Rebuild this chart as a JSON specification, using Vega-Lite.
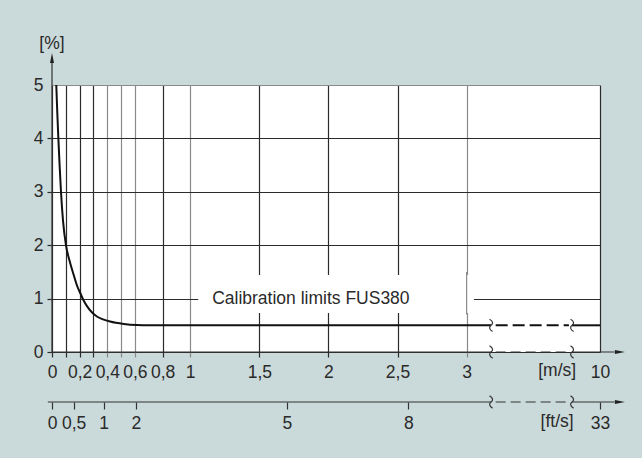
{
  "$schema": "https://vega.github.io/schema/vega-lite/v6.json",
  "width": 548,
  "height": 267,
  "autosize": {"type": "none"},
  "padding": {"left": 52, "top": 85, "right": 42, "bottom": 106},
  "background": "#cad9d9",
  "config": {"view": {"stroke": null, "fill": "white"}, "font": "Liberation Sans"},
  "datasets": {
    "curve": [
      {"x": 0.031, "y": 5.0, "seg": "a"}, {"x": 0.038, "y": 4.5, "seg": "a"}, {"x": 0.046, "y": 4.0, "seg": "a"},
      {"x": 0.055, "y": 3.5, "seg": "a"}, {"x": 0.065, "y": 3.0, "seg": "a"}, {"x": 0.08, "y": 2.45, "seg": "a"},
      {"x": 0.101, "y": 2.0, "seg": "a"}, {"x": 0.128, "y": 1.7, "seg": "a"}, {"x": 0.156, "y": 1.45, "seg": "a"},
      {"x": 0.18, "y": 1.25, "seg": "a"}, {"x": 0.205, "y": 1.1, "seg": "a"}, {"x": 0.23, "y": 0.96, "seg": "a"},
      {"x": 0.253, "y": 0.86, "seg": "a"}, {"x": 0.29, "y": 0.74, "seg": "a"}, {"x": 0.325, "y": 0.665, "seg": "a"},
      {"x": 0.37, "y": 0.61, "seg": "a"}, {"x": 0.42, "y": 0.57, "seg": "a"}, {"x": 0.52, "y": 0.525, "seg": "a"},
      {"x": 0.614, "y": 0.505, "seg": "a"}, {"x": 0.7, "y": 0.5, "seg": "a"}, {"x": 1.5, "y": 0.5, "seg": "a"},
      {"x": 3.177, "y": 0.5, "seg": "a"},
      {"x": 3.763, "y": 0.5, "seg": "b"}, {"x": 3.965, "y": 0.5, "seg": "b"}
    ],
    "curvedash": [{"x": 3.21, "y": 0.5}, {"x": 3.74, "y": 0.5}],
    "box": [{"x": 1.058, "x2": 3.053, "y": 0.73, "y2": 1.44}],
    "gridfix": [{"x": 3, "y": 0.7, "y2": 1.5}],
    "axislines": [
      {"x": 0, "x2": 0, "y": 0, "y2": 5.45, "style": "solid"},
      {"x": 0, "x2": 3.177, "y": 0, "y2": 0, "style": "solid"},
      {"x": 3.21, "x2": 3.74, "y": 0, "y2": 0, "style": "dashed"},
      {"x": 3.763, "x2": 4.07, "y": 0, "y2": 0, "style": "solid"}
    ],
    "ftaxis": [
      {"x": -0.03, "x2": 3.177, "y": -0.936, "style": "solid"},
      {"x": 3.21, "x2": 3.74, "y": -0.936, "style": "dashed"},
      {"x": 3.763, "x2": 4.07, "y": -0.936, "style": "solid"}
    ],
    "arrows": [
      {"x": 0, "y": 5.506, "dir": "up"},
      {"x": 4.109, "y": 0, "dir": "right"},
      {"x": 4.109, "y": -0.936, "dir": "right"}
    ],
    "breaks": [
      {"x": 3.177, "y": 0.5}, {"x": 3.763, "y": 0.5},
      {"x": 3.177, "y": 0}, {"x": 3.763, "y": 0},
      {"x": 3.177, "y": -0.936}, {"x": 3.763, "y": -0.936}
    ],
    "labels": [
      {"x": 0, "y": 5.76, "text": "[%]"},
      {"x": 1.873, "y": 1.0, "text": "Calibration limits FUS380"},
      {"x": 3.655, "y": -0.35, "text": "[m/s]"},
      {"x": 3.655, "y": -1.305, "text": "[ft/s]"}
    ]
  },
  "layer": [
    {
      "layer": [
        {
          "data": {"name": "curve"},
          "mark": {"type": "line", "color": "#111", "strokeWidth": 2, "interpolate": "monotone"},
          "encoding": {
            "x": {
              "field": "x", "type": "quantitative",
              "scale": {"domain": [0, 3.965], "nice": false, "zero": false},
              "axis": {
                "orient": "bottom",
                "values": [0, 0.1, 0.2, 0.3, 0.4, 0.5, 0.6, 0.8, 1, 1.5, 2, 2.5, 3, 3.965],
                "domain": false,
                "grid": true,
                "gridColor": {"condition": {"test": "indexof([0.4,0.5,0.6,1,3], datum.value) >= 0", "value": "#8a8a8a"}, "value": "#2b2b2b"},
                "gridWidth": 1.2,
                "tickColor": {"condition": {"test": "indexof([0.4,0.5,0.6,1,3], datum.value) >= 0", "value": "#8a8a8a"}, "value": "#2b2b2b"},
                "tickOpacity": {"condition": {"test": "datum.value > 3.5", "value": 0}, "value": 1},
                "tickSize": 5,
                "tickWidth": 1.2,
                "labelExpr": "datum.value > 3.5 ? '10' : (indexof([0.1,0.3,0.5], datum.value) >= 0 ? '' : replace(format(datum.value, '~g'), '.', ','))",
                "labelFontSize": 17.5,
                "labelColor": "#2a2a2a",
                "labelPadding": 6,
                "labelFlush": false,
                "labelOverlap": false,
                "labelBound": false,
                "title": null
              }
            },
            "y": {
              "field": "y", "type": "quantitative",
              "scale": {"domain": [0, 5], "nice": false, "zero": false},
              "axis": {
                "values": [0, 0.5, 1, 1.5, 2, 2.5, 3, 3.5, 4, 4.5, 5],
                "domain": false,
                "grid": true,
                "gridColor": {"condition": {"test": "datum.value == 0.5 || datum.value == 5", "value": "#8a8a8a"}, "value": "#2b2b2b"},
                "gridWidth": 1.2,
                "tickColor": "#2b2b2b",
                "tickOpacity": {"condition": {"test": "datum.value == 5", "value": 0}, "value": 1},
                "tickSize": 5,
                "tickWidth": 1.2,
                "labelExpr": "datum.value % 1 == 0 ? datum.label : ''",
                "labelFontSize": 17.5,
                "labelColor": "#2a2a2a",
                "labelPadding": 4,
                "labelFlush": false,
                "labelOverlap": false,
                "title": null
              }
            },
            "detail": {"field": "seg", "type": "nominal"}
          }
        },
        {
          "data": {"name": "box"},
          "mark": {"type": "rect", "fill": "white", "stroke": null},
          "encoding": {
            "x": {"field": "x", "type": "quantitative", "scale": {"domain": [0, 3.965], "nice": false, "zero": false}},
            "x2": {"field": "x2"},
            "y": {"field": "y", "type": "quantitative", "scale": {"domain": [0, 5], "nice": false, "zero": false}},
            "y2": {"field": "y2"}
          }
        },
        {
          "data": {"name": "gridfix"},
          "mark": {"type": "rule", "color": "#8a8a8a", "strokeWidth": 1.2},
          "encoding": {
            "x": {"field": "x", "type": "quantitative", "scale": {"domain": [0, 3.965], "nice": false, "zero": false}},
            "y": {"field": "y", "type": "quantitative", "scale": {"domain": [0, 5], "nice": false, "zero": false}},
            "y2": {"field": "y2"}
          }
        },
        {
          "data": {"name": "curvedash"},
          "mark": {"type": "line", "color": "#111", "strokeWidth": 2, "strokeDash": [12, 5]},
          "encoding": {
            "x": {"field": "x", "type": "quantitative", "scale": {"domain": [0, 3.965], "nice": false, "zero": false}},
            "y": {"field": "y", "type": "quantitative", "scale": {"domain": [0, 5], "nice": false, "zero": false}}
          }
        },
        {
          "data": {"name": "axislines"},
          "mark": {"type": "rule", "color": "#333", "strokeWidth": 1.2},
          "encoding": {
            "x": {"field": "x", "type": "quantitative", "scale": {"domain": [0, 3.965], "nice": false, "zero": false}},
            "x2": {"field": "x2"},
            "y": {"field": "y", "type": "quantitative", "scale": {"domain": [0, 5], "nice": false, "zero": false}},
            "y2": {"field": "y2"},
            "strokeDash": {"field": "style", "type": "nominal", "scale": {"domain": ["solid", "dashed"], "range": [[1, 0], [10, 5]]}, "legend": null}
          }
        },
        {
          "data": {"name": "arrows"},
          "mark": {"type": "point", "filled": true, "color": "#222", "opacity": 1, "size": 100},
          "encoding": {
            "x": {"field": "x", "type": "quantitative", "scale": {"domain": [0, 3.965], "nice": false, "zero": false}},
            "y": {"field": "y", "type": "quantitative", "scale": {"domain": [0, 5], "nice": false, "zero": false}},
            "shape": {"field": "dir", "type": "nominal", "scale": {"domain": ["up", "right"], "range": ["M0,-1L0.4,1L-0.4,1Z", "M1,0L-1,-0.4L-1,0.4Z"]}, "legend": null}
          }
        },
        {
          "data": {"name": "breaks"},
          "mark": {"type": "point", "filled": false, "stroke": "#333", "strokeWidth": 1.2, "opacity": 1, "size": 150, "shape": "M-0.25,-1C0.35,-0.7 0.35,-0.25 0,0C-0.35,0.25 -0.35,0.7 0.25,1"},
          "encoding": {
            "x": {"field": "x", "type": "quantitative", "scale": {"domain": [0, 3.965], "nice": false, "zero": false}},
            "y": {"field": "y", "type": "quantitative", "scale": {"domain": [0, 5], "nice": false, "zero": false}}
          }
        },
        {
          "data": {"name": "labels"},
          "mark": {"type": "text", "font": "Liberation Sans", "fontSize": 17.5, "color": "#2a2a2a", "align": "center", "baseline": "middle"},
          "encoding": {
            "x": {"field": "x", "type": "quantitative", "scale": {"domain": [0, 3.965], "nice": false, "zero": false}},
            "y": {"field": "y", "type": "quantitative", "scale": {"domain": [0, 5], "nice": false, "zero": false}},
            "text": {"field": "text", "type": "nominal"}
          }
        }
      ]
    },
    {
      "data": {"name": "ftaxis"},
      "mark": {"type": "rule", "color": "#333", "strokeWidth": 1.2},
      "encoding": {
        "x": {
          "field": "x", "type": "quantitative",
          "scale": {"domain": [0, 3.965], "nice": false, "zero": false},
          "axis": {
            "orient": "bottom",
            "offset": 50,
            "values": [0, 0.156, 0.373, 0.607, 1.699, 2.578, 3.965],
            "labelExpr": "datum.value < 0.1 ? '0' : datum.value < 0.2 ? '0,5' : datum.value < 0.5 ? '1' : datum.value < 1 ? '2' : datum.value < 2 ? '5' : datum.value < 3 ? '8' : '33'",
            "domain": false,
            "grid": false,
            "tickSize": 7,
            "tickColor": "#333",
            "tickWidth": 1.2,
            "labelFontSize": 17.5,
            "labelColor": "#2a2a2a",
            "labelPadding": 5,
            "labelFlush": false,
            "labelOverlap": false,
            "labelBound": false,
            "title": null
          }
        },
        "x2": {"field": "x2"},
        "y": {"field": "y", "type": "quantitative", "scale": {"domain": [0, 5], "nice": false, "zero": false}},
        "strokeDash": {"field": "style", "type": "nominal", "scale": {"domain": ["solid", "dashed"], "range": [[1, 0], [10, 5]]}, "legend": null}
      }
    }
  ],
  "resolve": {"axis": {"x": "independent"}}
}
